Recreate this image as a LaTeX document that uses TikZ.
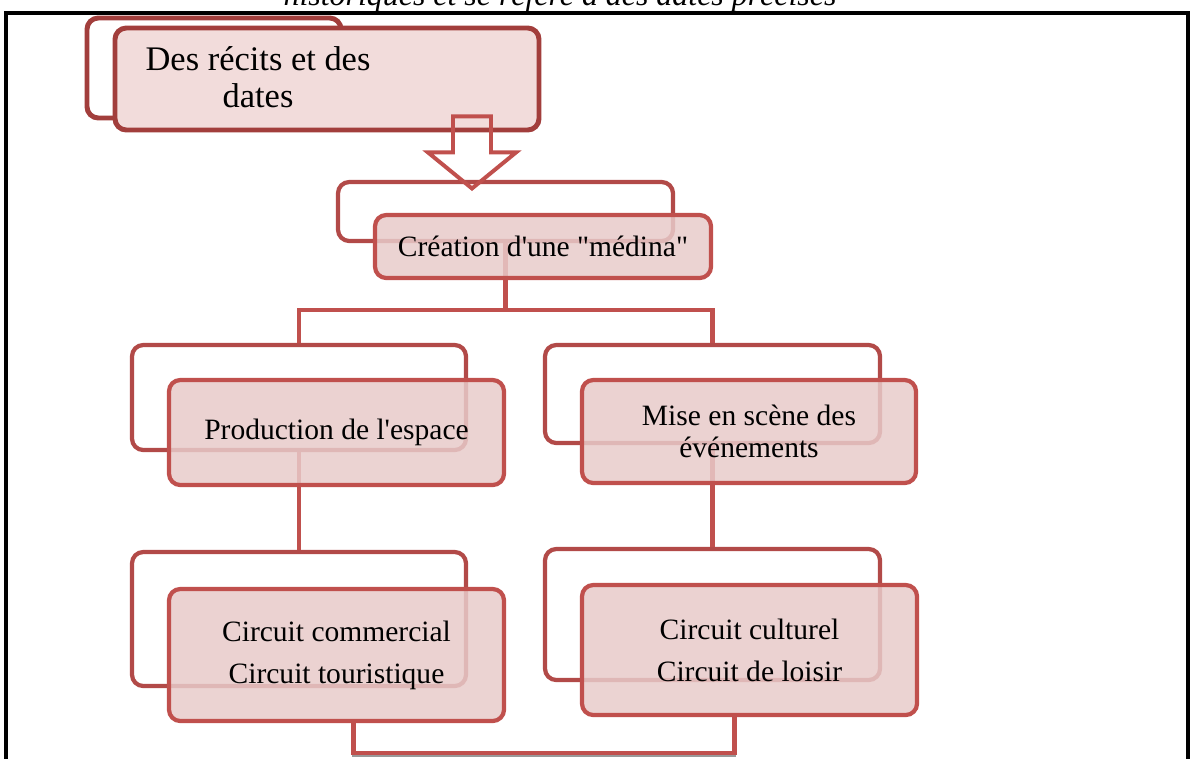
\documentclass[tikz,border=0pt]{standalone}
\usepackage{fontspec}
\setmainfont{Liberation Serif}
\usetikzlibrary{positioning}
\definecolor{smred}{HTML}{C0504D}
\definecolor{smdarkred}{HTML}{A23E3C}
\definecolor{smback}{HTML}{B24A48}
\definecolor{smfill}{HTML}{E8CBCA}
\definecolor{smtopfill}{HTML}{F2DCDB}

\begin{document}
\begin{tikzpicture}[x=0.025cm,y=-0.025cm,
  back/.style 2 args={draw=smback,line width=3pt,rounded corners=8pt,fill=white,
              inner sep=0pt,minimum width=#1*0.025cm,minimum height=#2*0.025cm},
  front/.style 2 args={draw=smred,line width=3pt,rounded corners=8pt,fill=smfill,
              fill opacity=.85,text opacity=1,align=center,inner sep=0pt,
              font=\fontsize{21pt}{23pt}\selectfont,
              minimum width=#1*0.025cm,minimum height=#2*0.025cm},
  link/.style={draw=smred,line width=3pt},
  blockarrow/.style={draw=smred,line width=2.8pt,line join=miter}]
\useasboundingbox (0,0) rectangle (1192,758);
% heading of the page, cut by the frame
\node[anchor=base,font=\fontsize{22.7pt}{24pt}\selectfont\itshape] (head) at (560,5)
 {historiques et se réfère à des dates précises};
\draw[line width=2.8pt] (6,775) |- (1188,13) -- (1188,775);

% back boxes
\node[back={254}{100},draw=smdarkred,line width=3.5pt] (tb) at (214,68) {};
\node[back={335}{59}] (cb) at (505.5,211.5) {};
\node[back={334}{105}] (pb) at (299,397.5) {};
\node[back={335}{98}] (mb) at (712.5,394) {};
\node[back={334}{134}] (kb) at (299,619) {};
\node[back={335}{131}] (lb) at (712.5,614.5) {};

% links
\draw[link] (cb.south) -- ++(0,67) -| (pb.north);
\draw[link] (cb.south) -- ++(0,67) -| (mb.north);
\draw[link] (pb.south) -- (kb.north);
\draw[link] (mb.south) -- (lb.north);

% front boxes
\node[front={424}{102},draw=smdarkred,line width=3.5pt,fill=smtopfill,fill opacity=1] (tf) at (327,79) {};
\node[align=center,font=\fontsize{24.5pt}{26.5pt}\selectfont] (tt) at (258,77)
 {Des récits et des\\dates};
\node[front={336}{63}] (cf) at (543,246.5) {Création d\textquotesingle une \textquotedbl médina\textquotedbl};
\node[front={335}{105}] (pf) at (336.5,432.5) {Production de l\textquotesingle espace};
\node[front={334}{103}] (mf) at (749,431.5) {Mise en scène des\\événements};
\node[front={335}{132}] (kf) at (336.5,655) {Circuit commercial\\[7pt]Circuit touristique};
\node[front={335}{130}] (lf) at (749.5,650) {Circuit culturel\\[7pt]Circuit de loisir};

% hollow arrow from the first box down to the second
\coordinate (ar) at (tf.south -| 472,0);
\draw[blockarrow] (ar) ++(-19,-16) -- ++(0,36) -- ++(-25,0) -- ++(44,36) -- ++(44,-36)
 -- ++(-25,0) -- ++(0,-36) -- cycle;
\draw[link,preaction={draw=black!40,line width=2pt,transform canvas={yshift=-1.5pt}}]
 ([xshift=17*0.025cm]kf.south) -- ++(0,30) -| ([xshift=-15*0.025cm]lf.south);
\end{tikzpicture}
\end{document}
